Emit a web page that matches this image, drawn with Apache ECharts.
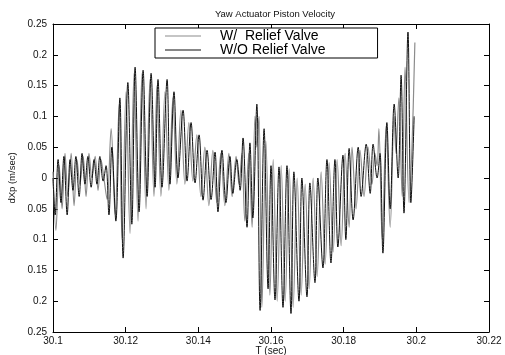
<!DOCTYPE html>
<html>
<head>
<meta charset="utf-8">
<script src="https://cdn.jsdelivr.net/npm/echarts@6/dist/echarts.min.js"></script>
<style>
html,body{margin:0;padding:0;background:#fff;}
#chart{width:505px;height:355px;}
</style>
</head>
<body>
<div id="chart"></div>
<script>
// Piston velocity with the relief valve fitted (grey trace)
const timeWith = [
30.1000,30.1008,30.1017,30.1025,30.1033,30.1041,30.1050,30.1058,30.1066,30.1074,
30.1083,30.1091,30.1099,30.1107,30.1116,30.1124,30.1132,30.1140,30.1149,30.1160,
30.1171,30.1182,30.1190,30.1201,30.1212,30.1223,30.1234,30.1245,30.1256,30.1267,
30.1278,30.1286,30.1297,30.1308,30.1319,30.1330,30.1341,30.1352,30.1363,30.1374,
30.1385,30.1396,30.1407,30.1418,30.1429,30.1440,30.1451,30.1462,30.1473,30.1484,
30.1493,30.1504,30.1512,30.1520,30.1528,30.1539,30.1548,30.1556,30.1561,30.1567,
30.1575,30.1586,30.1597,30.1606,30.1617,30.1628,30.1639,30.1650,30.1661,30.1672,
30.1683,30.1694,30.1705,30.1716,30.1727,30.1738,30.1749,30.1760,30.1771,30.1782,
30.1793,30.1804,30.1815,30.1823,30.1834,30.1845,30.1856,30.1867,30.1878,30.1886,
30.1892,30.1897,30.1906,30.1917,30.1928,30.1939,30.1944,30.1952,30.1961,30.1969,
30.1980,30.1988,30.1996
];
const velWith = [
0.01,-0.085,0.02,-0.05,0.04,-0.03,0.04,-0.045,0.03,-0.01,
0.035,-0.03,0.04,0.0,0.035,-0.02,0.03,0.0,-0.035,0.08,
-0.06,0.12,-0.1,0.14,-0.09,0.17,-0.07,0.17,-0.05,0.16,
-0.03,0.15,-0.03,0.14,-0.02,0.13,-0.01,0.11,-0.01,0.09,
-0.005,0.07,-0.03,0.05,-0.045,0.045,-0.04,0.04,-0.045,0.04,
-0.03,0.035,-0.01,0.04,-0.07,0.04,-0.08,0.1,0.05,0.1,
-0.21,0.06,-0.19,0.03,-0.2,0.02,-0.2,0.015,-0.21,0.0,
-0.19,-0.01,-0.18,0.0,-0.16,0.01,-0.14,0.025,-0.12,0.03,
-0.11,0.04,-0.08,0.05,-0.05,0.045,-0.03,0.05,-0.01,0.04,
0.02,0.08,-0.1,0.085,-0.08,0.1,0.04,0.13,-0.03,0.18,
-0.04,0.05,0.22
];

// Piston velocity without the relief valve (dark trace)
const timeWithout = [
30.1000,30.1006,30.1014,30.1022,30.1030,30.1039,30.1047,30.1055,30.1063,30.1072,
30.1080,30.1088,30.1096,30.1105,30.1113,30.1121,30.1129,30.1138,30.1146,30.1154,
30.1162,30.1173,30.1184,30.1193,30.1206,30.1217,30.1226,30.1237,30.1248,30.1259,
30.1270,30.1281,30.1289,30.1300,30.1314,30.1322,30.1333,30.1344,30.1358,30.1369,
30.1380,30.1391,30.1402,30.1413,30.1424,30.1435,30.1446,30.1454,30.1465,30.1476,
30.1487,30.1495,30.1506,30.1515,30.1523,30.1534,30.1542,30.1550,30.1561,30.1570,
30.1581,30.1592,30.1600,30.1611,30.1622,30.1633,30.1644,30.1655,30.1663,30.1677,
30.1685,30.1699,30.1707,30.1721,30.1729,30.1743,30.1754,30.1765,30.1776,30.1784,
30.1798,30.1806,30.1815,30.1826,30.1840,30.1848,30.1862,30.1873,30.1881,30.1892,
30.1900,30.1908,30.1919,30.1928,30.1939,30.1950,30.1958,30.1966,30.1977,30.1985,
30.1994
];
const velWithout = [
0.0,-0.06,0.03,-0.04,0.035,-0.06,0.03,-0.02,0.035,-0.03,
0.04,-0.01,0.035,-0.015,0.03,-0.01,0.035,-0.005,0.02,-0.06,
0.05,-0.07,0.13,-0.13,0.155,-0.075,0.18,-0.055,0.175,-0.03,
0.17,-0.015,0.16,-0.015,0.16,-0.01,0.14,0.0,0.11,-0.005,
0.09,-0.008,0.07,-0.036,0.045,-0.035,0.042,-0.055,0.045,-0.04,
0.035,-0.025,0.03,-0.02,0.065,-0.08,0.057,-0.065,0.12,-0.215,
0.08,-0.18,0.02,-0.198,0.018,-0.21,0.02,-0.22,0.01,-0.2,
0.0,-0.193,-0.008,-0.17,0.0,-0.146,0.03,-0.138,0.03,-0.112,
0.037,-0.1,0.048,-0.068,0.05,-0.03,0.055,-0.025,0.055,0.0,
0.04,-0.122,0.09,-0.05,0.12,0.0,0.167,-0.057,0.237,-0.04,
0.1
];

const seriesNames = ['W/  Relief Valve', 'W/O Relief Valve'];
const xTickValues = [30.1, 30.12, 30.14, 30.16, 30.18, 30.2, 30.22];

const pairs = (ts, vs) => ts.map((t, i) => [t, vs[i]]);
const FONT = 'Liberation Sans, Arial, Helvetica, sans-serif';

const fmtX = v => String(parseFloat(v.toFixed(2)));
const fmtY = v => {
  const a = Math.abs(parseFloat(v.toFixed(2)));
  return a === 0 ? '0' : String(a);
};

const chart = echarts.init(document.getElementById('chart'), null, {renderer: 'canvas'});

const baseX = {
  type: 'value', min: xTickValues[0], max: xTickValues[xTickValues.length - 1], interval: 0.02,
  splitLine: {show: false},
  axisLine: {show: true, onZero: false, lineStyle: {color: '#000', width: 1}},
  axisTick: {show: true, inside: true, length: 5, lineStyle: {color: '#000'}}
};
const baseY = {
  type: 'value', min: -0.25, max: 0.25, interval: 0.05,
  splitLine: {show: false},
  axisLine: {show: true, onZero: false, lineStyle: {color: '#000', width: 1}},
  axisTick: {show: true, inside: true, length: 5, lineStyle: {color: '#000'}}
};

// flat bar used as the legend key so only a line sample is shown
const lineKey = 'path://M0,0 L36,0 L36,1 L0,1 Z';

chart.setOption({
  backgroundColor: '#fff',
  animation: false,
  title: {
    text: 'Yaw Actuator Piston Velocity',
    left: 270, top: 4, textAlign: 'center',
    textStyle: {fontFamily: FONT, fontSize: 9.5, fontWeight: 'normal', color: '#111'}
  },
  legend: {
    data: [
      {name: seriesNames[0], icon: lineKey},
      {name: seriesNames[1], icon: lineKey}
    ],
    orient: 'vertical',
    left: 155, top: 28,
    padding: [1, 52, 1, 10],
    itemGap: 0,
    itemWidth: 36, itemHeight: 1.2,
    borderColor: '#000', borderWidth: 1,
    backgroundColor: '#fff',
    textStyle: {fontFamily: FONT, fontSize: 14, color: '#000', padding: [0, 0, 0, 14], lineHeight: 14}
  },
  grid: {left: 53, right: 16, top: 24, bottom: 23, containLabel: false, outerBoundsMode: 'none'},
  xAxis: [
    Object.assign({}, baseX, {
      position: 'bottom',
      name: 'T (sec)', nameLocation: 'middle', nameGap: 14, nameMoveOverlap: false,
      nameTextStyle: {fontFamily: FONT, fontSize: 10, color: '#111'},
      axisLabel: {fontFamily: FONT, fontSize: 10, color: '#111', margin: 4, formatter: fmtX}
    }),
    Object.assign({}, baseX, {position: 'top', axisLabel: {show: false}})
  ],
  yAxis: [
    Object.assign({}, baseY, {
      position: 'left',
      name: 'dXp (m/sec)', nameLocation: 'middle', nameGap: 36, nameRotate: 90, nameMoveOverlap: false,
      nameTextStyle: {fontFamily: FONT, fontSize: 9.5, color: '#111'},
      axisLabel: {fontFamily: FONT, fontSize: 10, color: '#111', margin: 6, formatter: fmtY}
    }),
    Object.assign({}, baseY, {position: 'right', axisLabel: {show: false}})
  ],
  series: [
    {
      name: seriesNames[0], type: 'line', xAxisIndex: 0, yAxisIndex: 0,
      data: pairs(timeWith, velWith),
      symbol: 'none', smooth: 0.35,
      lineStyle: {color: '#8c8c8c', width: 1.2},
      itemStyle: {color: '#8c8c8c'}
    },
    {
      name: seriesNames[1], type: 'line', xAxisIndex: 0, yAxisIndex: 0,
      data: pairs(timeWithout, velWithout),
      symbol: 'none', smooth: 0.35,
      lineStyle: {color: '#111', width: 1},
      itemStyle: {color: '#111'}
    }
  ]
});
</script>
</body>
</html>
